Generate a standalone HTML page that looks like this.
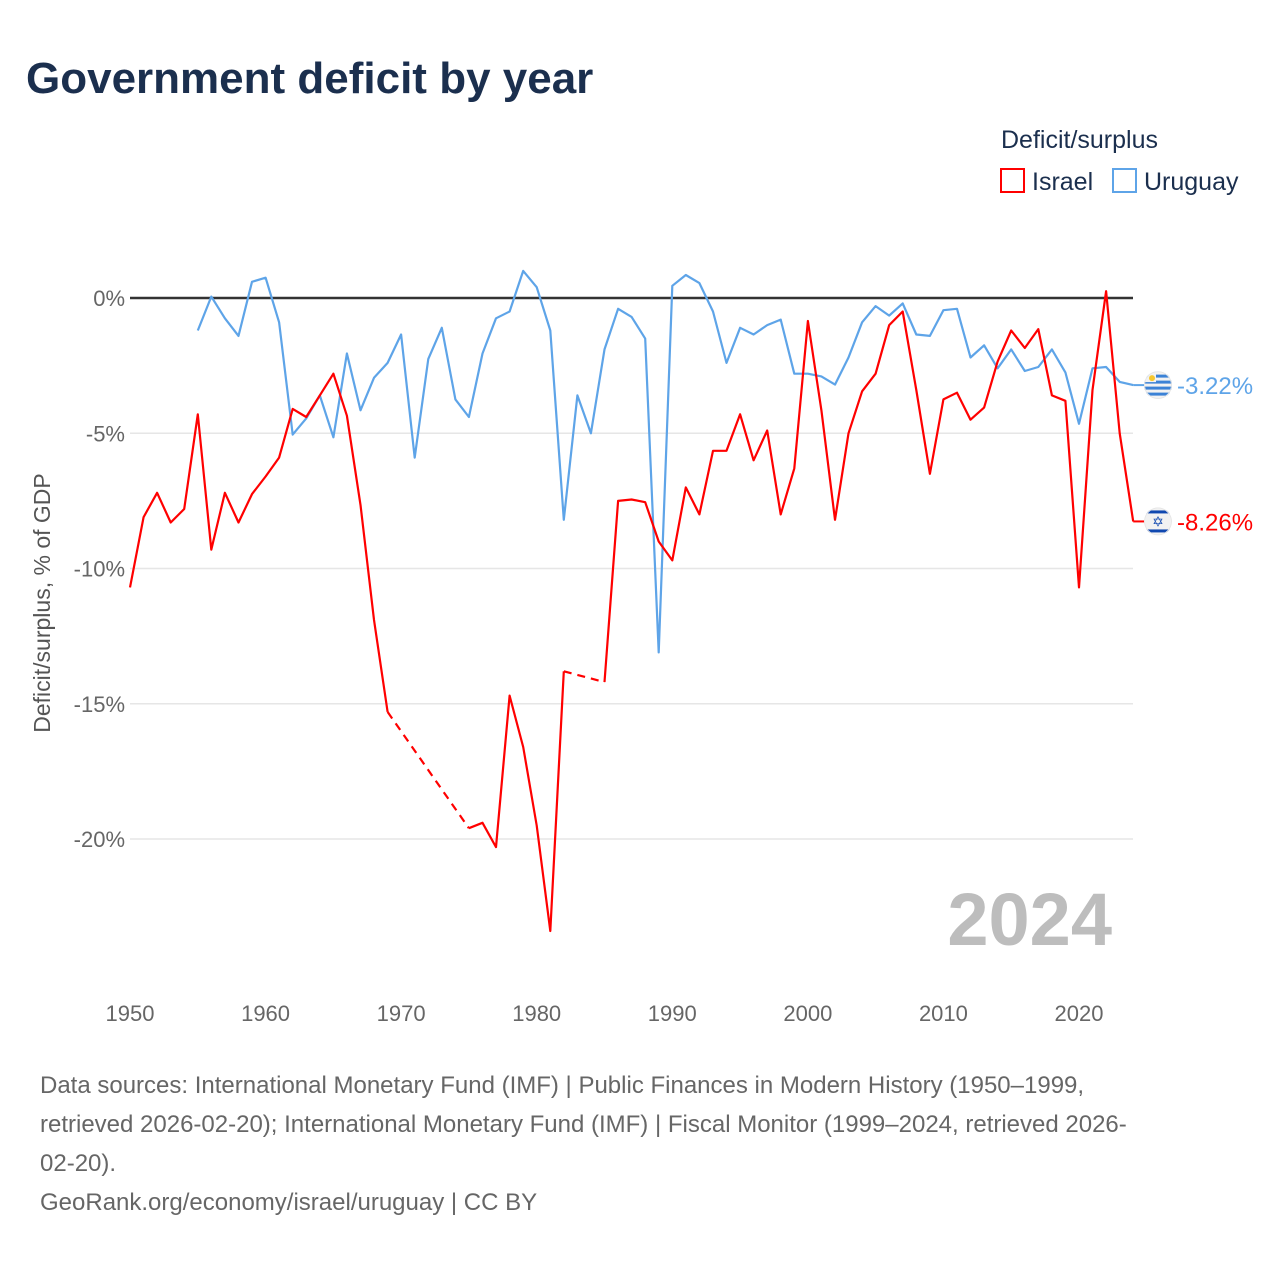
<!DOCTYPE html>
<html><head><meta charset="utf-8"><style>
body{margin:0;background:#fff;font-family:"Liberation Sans",sans-serif;}
#wrap{position:relative;width:1280px;height:1280px;overflow:hidden;}
svg text{font-family:"Liberation Sans",sans-serif;}
</style></head><body>
<div id="wrap">
<svg id="chart" width="1280" height="1280">
<defs>
<clipPath id="cu"><circle cx="1158" cy="0" r="14"/></clipPath>
</defs>
<text x="26" y="93" font-size="44" font-weight="bold" fill="#1b2f4e">Government deficit by year</text>
<text x="1001" y="148" font-size="25" fill="#1b2f4e">Deficit/surplus</text>
<g><rect x="1001" y="169" width="23" height="23" fill="none" stroke="#ff0000" stroke-width="2"/><text x="1032" y="190" font-size="25" fill="#1b2f4e">Israel</text></g>
<g><rect x="1113" y="169" width="23" height="23" fill="none" stroke="#5ea4e8" stroke-width="2"/><text x="1144" y="190" font-size="25" fill="#1b2f4e">Uruguay</text></g>
<text transform="translate(50,603) rotate(-90)" text-anchor="middle" font-size="23" fill="#555">Deficit/surplus, % of GDP</text>
<text x="1112" y="945" text-anchor="end" font-size="74" font-weight="bold" fill="#bdbdbd">2024</text>
<g id="grid"></g><g id="series"></g>
<g font-size="24" fill="#666">
<text x="40" y="1093">Data sources: International Monetary Fund (IMF) | Public Finances in Modern History (1950–1999,</text>
<text x="40" y="1132">retrieved 2026-02-20); International Monetary Fund (IMF) | Fiscal Monitor (1999–2024, retrieved 2026-</text>
<text x="40" y="1171">02-20).</text>
<text x="40" y="1210">GeoRank.org/economy/israel/uruguay | CC BY</text>
</g>
</svg></div>
<script>
const years=[];for(let y=1950;y<=2024;y++)years.push(y);
const yTicks=[0,-5,-10,-15,-20];
const xTicks=[1950,1960,1970,1980,1990,2000,2010,2020];
const israel=[-10.7,-8.1,-7.2,-8.3,-7.8,-4.3,-9.3,-7.2,-8.3,-7.25,-6.6,-5.9,-4.1,-4.4,-3.6,-2.8,-4.35,-7.65,-11.9,-15.3,null,null,null,null,null,-19.6,-19.4,-20.3,-14.7,-16.6,-19.5,-23.4,-13.8,null,null,-14.2,-7.5,-7.45,-7.55,-9.0,-9.7,-7.0,-8.0,-5.65,-5.65,-4.3,-6.0,-4.9,-8.0,-6.3,-0.85,-4.15,-8.2,-5.0,-3.45,-2.8,-1.0,-0.5,-3.4,-6.5,-3.75,-3.5,-4.5,-4.05,-2.35,-1.2,-1.85,-1.15,-3.6,-3.8,-10.7,-3.4,0.25,-5.0,-8.26];
const uruguay=[null,null,null,null,null,-1.2,0.05,-0.75,-1.4,0.6,0.75,-0.9,-5.05,-4.45,-3.6,-5.15,-2.05,-4.15,-2.95,-2.4,-1.35,-5.9,-2.25,-1.1,-3.75,-4.4,-2.05,-0.75,-0.5,1.0,0.4,-1.2,-8.2,-3.6,-5.0,-1.9,-0.4,-0.7,-1.5,-13.1,0.45,0.85,0.55,-0.5,-2.4,-1.1,-1.35,-1.0,-0.8,-2.8,-2.8,-2.9,-3.2,-2.2,-0.9,-0.3,-0.65,-0.2,-1.35,-1.4,-0.45,-0.4,-2.2,-1.75,-2.6,-1.9,-2.7,-2.55,-1.9,-2.75,-4.65,-2.6,-2.55,-3.1,-3.22];
const NS='http://www.w3.org/2000/svg';
const X=y=>130+(y-1950)*13.557;
const Y=v=>298-v*27.05;
function mk(t,a,p){const e=document.createElementNS(NS,t);for(const k in a)e.setAttribute(k,a[k]);p.appendChild(e);return e;}
const grid=document.getElementById('grid');
yTicks.forEach(v=>{
  const l=mk('line',{x1:130,x2:1133,y1:Y(v),y2:Y(v),stroke:v===0?'#333':'#e6e6e6','stroke-width':v===0?2.5:1.5},grid);
  
  
  const t=mk('text',{x:125,y:Y(v)+8,'text-anchor':'end','font-size':22,fill:'#666'},grid);
  t.textContent=v+'%';
  
  
});
xTicks.forEach(yr=>{
  const t=mk('text',{x:X(yr),y:1021,'text-anchor':'middle','font-size':22,fill:'#666'},grid);
  t.textContent=yr;
  
  
});
const sg=document.getElementById('series');
function draw(vals,color,name){
  const g=mk('g',{},sg);
  
  
  let solid='',dash='',prev=null,gap=false;
  vals.forEach((v,i)=>{
    if(v===null){if(prev)gap=true;return;}
    const pt=X(years[i]).toFixed(1)+','+Y(v).toFixed(1);
    if(prev&&gap){dash+='M'+prev+'L'+pt;solid+='M'+pt;}
    else if(prev){solid+='L'+pt;}
    else solid+='M'+pt;
    prev=pt;gap=false;
  });
  mk('path',{d:solid,fill:'none',stroke:color,'stroke-width':2.2,'stroke-linejoin':'round'},g);
  if(dash)mk('path',{d:dash,fill:'none',stroke:color,'stroke-width':2.2,'stroke-dasharray':'8,6'},g);
  const last=vals[vals.length-1],ly=Y(last);
  mk('line',{x1:X(2024),x2:1145,y1:ly,y2:ly,stroke:color,'stroke-width':2},g);
  const lbl=mk('text',{x:1177,y:ly+9,'font-size':24,fill:color},g);
  lbl.textContent=last.toFixed(2)+'%';
  
  
  return ly;
}
const uy=draw(uruguay,'#5ea4e8','uruguay');
const iy=draw(israel,'#ff0000','israel');
function flag(cy,type){
  const cp=mk('clipPath',{id:'clip-'+type},document.querySelector('defs'));
  mk('circle',{cx:1158,cy:cy,r:14},cp);
  const g=mk('g',{'clip-path':'url(#clip-'+type+')'},sg);
  
  
  const cx=1158;
  mk('circle',{cx:cx,cy:cy,r:14,fill:'#f2f2f2'},g);
  if(type==='uruguay'){
    [-9,-3,3,9].forEach(d=>mk('rect',{x:cx-14,y:cy+d-1.5,width:28,height:3,fill:'#3b82d6'},g));
    mk('rect',{x:cx-14,y:cy-14,width:12,height:11,fill:'#f2f2f2'},g);
    mk('circle',{cx:cx-6,cy:cy-7,r:3,fill:'#f7c830'},g);
  }else{
    mk('rect',{x:cx-14,y:cy-11,width:28,height:3,fill:'#1048b0'},g);
    mk('rect',{x:cx-14,y:cy+8,width:28,height:3,fill:'#1048b0'},g);
    const s=mk('text',{x:cx,y:cy+5,'text-anchor':'middle','font-size':14,fill:'#1048b0'},g);s.textContent='✡';
  }
  mk('circle',{cx:cx,cy:cy,r:13.5,fill:'none',stroke:'#e6e6e6','stroke-width':1},g);
}
flag(uy,'uruguay');flag(iy,'israel');
</script>
</body></html>
